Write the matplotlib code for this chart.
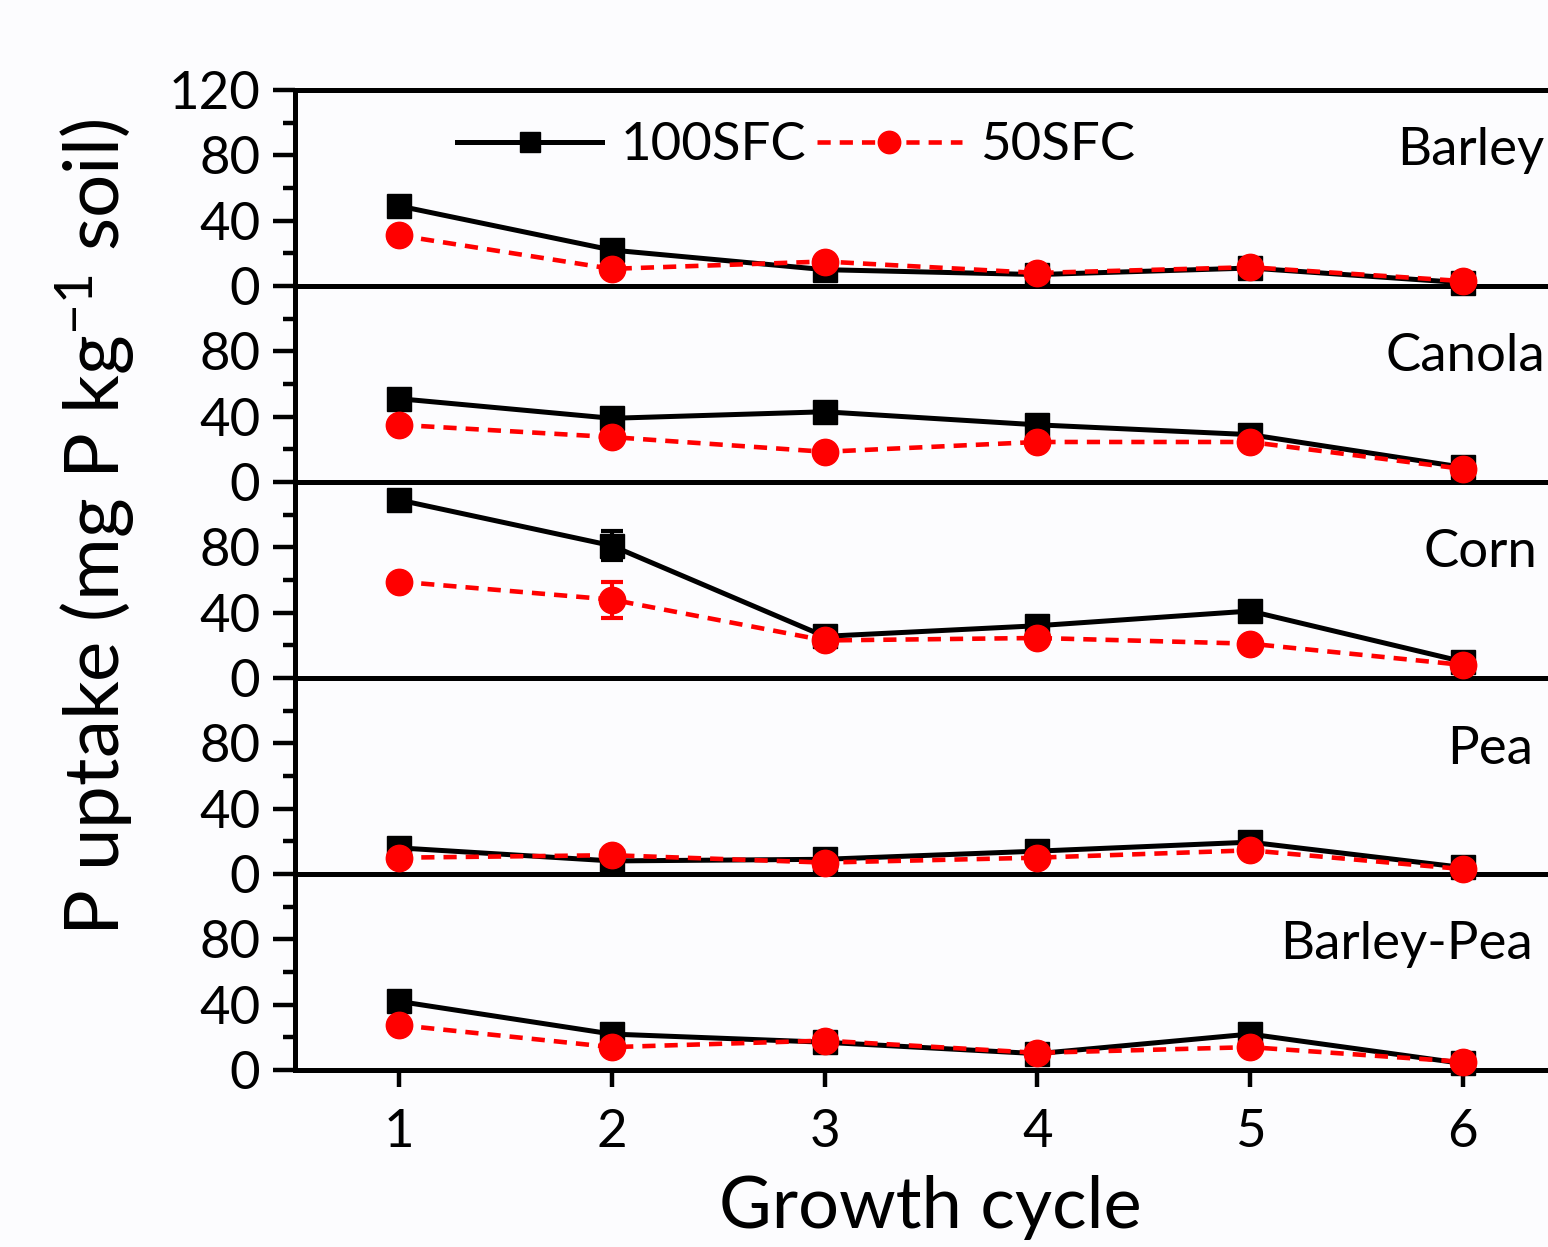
import matplotlib
matplotlib.use("Agg")
import matplotlib.pyplot as plt
from matplotlib.ticker import FixedLocator
import matplotlib.transforms as mtransforms

plt.rcParams['font.family'] = ['Lato', 'DejaVu Sans']
plt.rcParams['mathtext.fontset'] = 'custom'
plt.rcParams['mathtext.rm'] = 'Lato'
plt.rcParams['mathtext.it'] = 'Lato'
plt.rcParams['lines.scale_dashes'] = False

cycles = [1, 2, 3, 4, 5, 6]
crops = ["Barley", "Canola", "Corn", "Pea", "Barley-Pea"]

barley_100 = [49, 22, 10, 7, 11, 2]
barley_50 = [31, 10.5, 15, 8, 11.5, 3]
canola_100 = [51, 39, 43, 35, 29, 9]
canola_50 = [35, 27.5, 18.5, 24.5, 24.5, 8]
corn_100 = [109, 81, 25.5, 32, 41, 10]
corn_50 = [59, 48, 23, 24.5, 21, 8]
pea_100 = [16, 8, 9, 14, 19.5, 4]
pea_50 = [10, 11.5, 7, 10, 14.5, 3]
bp_100 = [42, 22, 17, 10, 22, 4]
bp_50 = [27.5, 14, 18, 10.5, 14, 5]

barley_100_err = [2, 2, 2, 1, 2, 1]
barley_50_err = [2, 2, 2, 1, 2, 1]
canola_100_err = [2, 3, 3, 2, 3, 1]
canola_50_err = [2, 2, 3, 2, 2, 1]
corn_100_err = [2, 9, 3, 2, 2, 1]
corn_50_err = [3, 11, 3, 2, 2, 1]
pea_100_err = [2, 1, 1, 1, 2, 1]
pea_50_err = [2, 2, 1, 1, 2, 1]
bp_100_err = [2, 2, 2, 1, 2, 1]
bp_50_err = [2, 2, 2, 1, 2, 1]

series_100 = [barley_100, canola_100, corn_100, pea_100, bp_100]
series_50 = [barley_50, canola_50, corn_50, pea_50, bp_50]
err_100 = [barley_100_err, canola_100_err, corn_100_err, pea_100_err, bp_100_err]
err_50 = [barley_50_err, canola_50_err, corn_50_err, pea_50_err, bp_50_err]

W, H = 1548, 1247
bg = '#fcfcfe'
fig = plt.figure(figsize=(W / 100, H / 100), dpi=100, facecolor=bg)

left = 295 / W
right = 1.0
top = 1 - 90 / H
bottom = 1 - 1070 / H
ph = (top - bottom) / 5

label_x_px = [1397, 1385, 1423, 1447, 1280]
label_dy_px = [75, 85, 85, 86, 85]

spine_w = 3.6
axes = []
for i in range(5):
    ax = fig.add_axes([left, top - (i + 1) * ph, right - left, ph], facecolor='none')
    axes.append(ax)
    ax.set_zorder(10 - i)
    ax.set_xlim(0.511, 6.40)
    ax.set_ylim(0, 120)
    ax.spines['right'].set_visible(False)
    ax.spines['top'].set_visible(i == 0)
    for s in ['left', 'bottom', 'top']:
        ax.spines[s].set_linewidth(spine_w)
    ax.yaxis.set_major_locator(FixedLocator([0, 40, 80, 120] if i == 0 else [0, 40, 80]))
    ax.yaxis.set_minor_locator(FixedLocator([20, 60, 100]))
    ax.tick_params(axis='y', which='major', direction='out', length=16, width=3.2, labelsize=38, pad=9)
    ax.tick_params(axis='y', which='minor', direction='out', length=8.5, width=3.2)
    ax.set_xticks(cycles)
    if i < 4:
        ax.tick_params(axis='x', which='both', bottom=False, labelbottom=False)
    else:
        ax.tick_params(axis='x', direction='out', length=12, width=3.2, labelsize=38, pad=16)

    ax.errorbar(cycles, series_100[i], yerr=err_100[i], fmt='none', ecolor='black',
                elinewidth=3, capsize=8, capthick=3, zorder=2)
    ax.plot(cycles, series_100[i], color='black', lw=3.6, marker='s', markersize=17,
            label='100SFC', zorder=3, clip_on=False)
    ax.errorbar(cycles, series_50[i], yerr=err_50[i], fmt='none', ecolor='red',
                elinewidth=3, capsize=8, capthick=3, zorder=4)
    ax.plot(cycles, series_50[i], color='red', lw=3.3, linestyle=(0, (9.5, 6.5)), marker='o',
            markersize=19, label='50SFC', zorder=5, clip_on=False)

    trans = mtransforms.blended_transform_factory(fig.transFigure, ax.transAxes)
    ax.text(label_x_px[i] / W, 1 - label_dy_px[i] / 196, crops[i], transform=trans,
            ha='left', va='baseline', fontsize=38, clip_on=False)

leg = axes[0].legend(loc='center left', bbox_to_anchor=(457 / W, 1 - 146 / H),
                     bbox_transform=fig.transFigure, ncol=2, frameon=False,
                     fontsize=38, handlelength=2.75, handletextpad=0.35,
                     columnspacing=0.2, borderpad=0, borderaxespad=0, markerscale=0.85)

fig.text(95 / W, 1 - 528 / H, r'P uptake (mg P kg$^{-1}$ soil)', rotation=90,
         ha='center', va='center', fontsize=55)
fig.text(930 / W, 1 - 1208 / H, 'Growth cycle', ha='center', va='center', fontsize=52)

fig.savefig('out.png', dpi=100, facecolor=bg)
